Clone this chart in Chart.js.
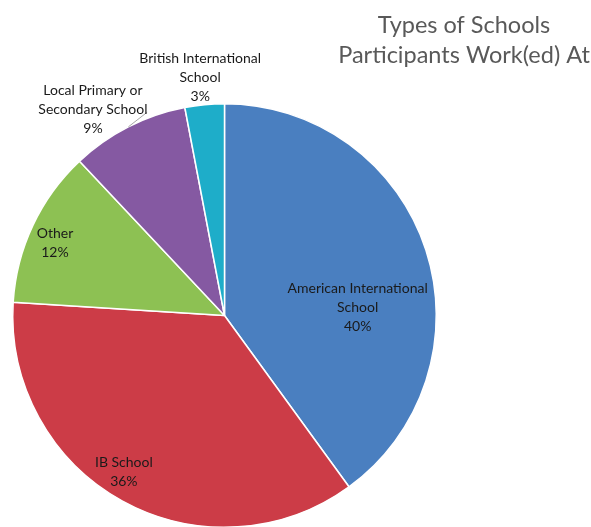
<!DOCTYPE html>
<html>
<head>
<meta charset="utf-8">
<script src="https://cdn.jsdelivr.net/npm/chart.js@4/dist/chart.umd.min.js"></script>
<style>
  html, body { margin: 0; padding: 0; background: #fff; overflow: hidden; }
  #wrap { position: relative; width: 591px; height: 540px; }
</style>
</head>
<body>
<div id="wrap"><canvas id="schoolsPie" width="591" height="540"></canvas></div>
<script>
// Survey data
const schoolTypes = [
  ['American International', 'School'],
  ['IB School'],
  ['Other'],
  ['Local Primary or', 'Secondary School'],
  ['British International', 'School']
];
const schoolShares = [40, 36, 12, 9, 3];
const sliceColors = ['#4a7fc0', '#cc3c47', '#8dc153', '#8559a2', '#1eadc9'];
const chartTitle = ['Types of Schools', 'Participants Work(ed) At'];

// where each label sits: fraction across the slice, fraction of the radius
const labelSpots = [
  { along: 0.60, radius: 0.63 },
  { along: 0.53, radius: 0.88 },
  { along: 0.45, radius: 0.87 },
  { along: 0.33, radius: 1.156, leader: { along: 0.69, radius: 1.027 } },
  { along: 0.46, radius: 1.13 }
];

const labelFont = '14px Lato, "Open Sans", sans-serif';
const titleFont = '23.5px Lato, "Open Sans", sans-serif';

//   Labels plugin =======================
const sliceLabels = {
  id: 'sliceLabels',
  afterDatasetsDraw(chart) {
    const ctx = chart.ctx;
    const meta = chart.getDatasetMeta(0);
    const data = chart.data.datasets[0].data;
    const total = data.reduce((a, b) => a + b, 0);
    meta.data.forEach((arc, i) => {
      const spot = labelSpots[i];
      const { x, y, startAngle, endAngle, outerRadius } = arc.getProps(['x', 'y', 'startAngle', 'endAngle', 'outerRadius'], true);
      const pointAt = (along, r) => {
        const a = startAngle + (endAngle - startAngle) * along;
        return [x + Math.cos(a) * outerRadius * r, y + Math.sin(a) * outerRadius * r];
      };
      const [lx, ly] = pointAt(spot.along, spot.radius);
      const lines = chart.data.labels[i].concat([Math.round(data[i] / total * 100) + '%']);
      const lh = 19;
      ctx.save();
      if (spot.leader) {
        const [ex, ey] = pointAt(0.5, 1);
        const [tx, ty] = pointAt(spot.leader.along, spot.leader.radius);
        ctx.strokeStyle = '#a6a6a6';
        ctx.lineWidth = 1;
        ctx.beginPath();
        ctx.moveTo(ex, ey);
        ctx.lineTo(tx, ty);
        ctx.stroke();
      }
      ctx.font = labelFont;
      ctx.fillStyle = '#1a1a1a';
      ctx.textAlign = 'center';
      ctx.textBaseline = 'middle';
      const top = ly - (lines.length - 1) * lh / 2;
      lines.forEach((t, k) => ctx.fillText(t, lx, top + k * lh));
      ctx.restore();
    });
  }
};

//   Title plugin ========================
const cornerTitle = {
  id: 'cornerTitle',
  afterDraw(chart) {
    const ctx = chart.ctx;
    ctx.save();
    ctx.font = titleFont;
    ctx.fillStyle = '#595959';
    ctx.textAlign = 'center';
    ctx.textBaseline = 'alphabetic';
    chartTitle.forEach((t, k) => ctx.fillText(t, 464, 33 + k * 30));
    ctx.restore();
  }
};

//   Pie chart ===========================
const dataSchools = {
  labels: schoolTypes,
  datasets: [{
    data: schoolShares,
    backgroundColor: sliceColors,
    borderColor: '#ffffff',
    borderWidth: 1.5,
    hoverOffset: 0
  }]
};

const configSchools = {
  type: 'pie',
  data: dataSchools,
  options: {
    responsive: false,
    animation: false,
    layout: {
      padding: { left: 12, right: 154, top: 103, bottom: 12 }
    },
    plugins: {
      legend: { display: false },
      title: { display: false },
      tooltip: { enabled: false }
    }
  },
  plugins: [sliceLabels, cornerTitle]
};

const schoolsPie = new Chart(document.getElementById('schoolsPie'), configSchools);
</script>
</body>
</html>
